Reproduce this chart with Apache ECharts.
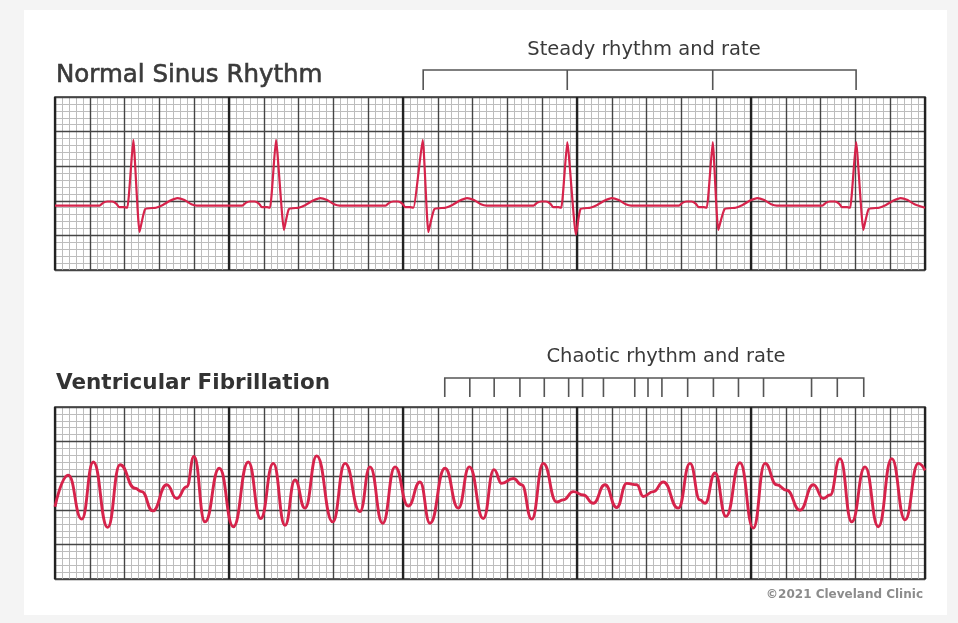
<!DOCTYPE html>
<html><head><meta charset="utf-8">
<script src="https://cdn.jsdelivr.net/npm/echarts@6/dist/echarts.min.js"></script>
<style>html,body{margin:0;padding:0;background:#f4f4f4}#c{width:958px;height:623px}</style>
</head><body><div id="c"></div>
<script>
// ECG paper in millimetres: 125 mm wide, 25 mm tall per strip
const paperX = [0, 125];
const paperY = [0, 25];

// Normal sinus rhythm trace [mm along strip, mm above bottom]
const sinusTrace = [
  [0,9.3],[6.4,9.3],[6.9,9.7],[7.5,9.9],[8.2,9.9],[8.8,9.6],[9.2,9.1],[10.0,9.1],[10.4,9.0],[11.25,18.8],[12.15,5.5],[12.95,8.8],[14.5,9.0],[15.5,9.4],[16.5,10.0],[17.6,10.4],[18.6,10.1],[19.6,9.5],[20.4,9.3],
  [26.9,9.3],[27.4,9.7],[28.0,9.9],[28.7,9.9],[29.3,9.6],[29.7,9.1],[30.5,9.1],[30.9,9.0],[31.75,18.8],[32.9,5.8],[33.6,8.8],[35.0,9.0],[36.0,9.4],[37.0,10.0],[38.1,10.4],[39.1,10.1],[40.1,9.5],[40.9,9.3],
  [47.5,9.3],[48.0,9.7],[48.6,9.9],[49.3,9.9],[49.9,9.6],[50.3,9.1],[51.1,9.1],[51.5,9.0],[52.83,18.8],[53.65,5.5],[54.5,8.8],[56.1,9.0],[57.1,9.4],[58.1,10.0],[59.2,10.4],[60.2,10.1],[61.2,9.5],[62.0,9.3],
  [68.75,9.3],[69.25,9.7],[69.85,9.9],[70.55,9.9],[71.15,9.6],[71.55,9.1],[72.35,9.1],[72.75,9.0],[73.6,18.5],[74.85,5.1],[75.5,8.8],[76.9,9.0],[77.9,9.4],[78.9,10.0],[80.0,10.4],[81.0,10.1],[82.0,9.5],[82.8,9.3],
  [89.65,9.3],[90.15,9.7],[90.75,9.9],[91.45,9.9],[92.05,9.6],[92.45,9.1],[93.25,9.1],[93.65,9.0],[94.5,18.5],[95.3,5.8],[96.2,8.8],[97.8,9.0],[98.8,9.4],[99.8,10.0],[100.9,10.4],[101.9,10.1],[102.9,9.5],[103.7,9.3],
  [110.25,9.3],[110.75,9.7],[111.35,9.9],[112.05,9.9],[112.65,9.6],[113.05,9.1],[113.85,9.1],[114.25,9.0],[115.1,18.5],[116.15,5.8],[116.9,8.8],[118.4,9.0],[119.4,9.4],[120.4,10.0],[121.5,10.4],[122.5,10.1],[123.5,9.5],[125,9.0]
];

// Ventricular fibrillation trace
const fibTrace = [
  [0,10.5],[1.91,15.1],[3.84,8.7],[5.5,17.0],[7.57,7.5],[9.34,16.6],[11.49,13.2],[12.46,12.7],[14.04,9.9],[16.05,13.7],
  [17.49,11.7],[18.92,13.4],[19.97,17.8],[21.55,8.3],[23.61,16.1],[25.62,7.6],[27.77,17.0],[29.55,8.8],[31.36,16.8],[33.05,7.8],
  [34.48,14.4],[35.92,10.3],[37.6,17.9],[39.9,8.3],[41.67,16.8],[43.82,9.8],[45.26,16.3],[47.08,8.1],[48.85,16.3],[50.76,10.6],
  [52.44,14.1],[53.88,8.1],[56.03,16.1],[57.95,10.3],[59.53,16.3],[61.54,8.8],[63.07,15.9],[64.18,13.9],[65.85,14.6],[67.05,13.7],
  [68.49,8.7],[70.16,16.8],[72.08,11.2],[73.03,11.5],[74.47,12.7],[75.91,12.2],[77.34,11.0],[79.02,13.7],[80.7,10.4],[82.14,13.9],
  [83.58,13.7],[84.53,12.0],[85.96,12.7],[87.4,14.1],[89.55,10.3],[91.24,16.8],[92.67,11.5],[93.39,11.0],[94.83,15.4],[96.41,9.1],
  [98.42,16.9],[100.33,7.4],[102.01,16.8],[103.69,13.7],[105.13,12.9],[107.04,10.0],[108.95,13.7],[110.39,11.7],[111.35,12.2],[112.79,17.5],
  [114.47,8.3],[116.38,16.3],[118.29,7.6],[120.22,17.5],[122.13,8.6],[124.04,16.8],[125,15.8]
];

// bracket tick positions (mm along strip)
const steadyTicks = [52.9, 73.6, 94.5, 115.1];
const chaoticTicks = [56.0, 59.6, 63.1, 66.8, 70.3, 73.8, 75.8, 78.8, 83.3, 85.2, 87.2, 90.9, 94.6, 98.2, 101.8, 108.7, 112.4, 116.2];

const texts = {
  sinus: 'Normal Sinus Rhythm',
  fib: 'Ventricular Fibrillation',
  steady: 'Steady rhythm and rate',
  chaotic: 'Chaotic rhythm and rate',
  copy: '©2021 Cleveland Clinic'
};

function bracketPath(ticks) {
  const pts = [[ticks[0], 0], [ticks[0], 1]];
  for (let i = 1; i < ticks.length; i++) {
    pts.push([ticks[i], 1], [ticks[i], 0]);
    if (i < ticks.length - 1) pts.push([ticks[i], 1]);
  }
  return pts;
}

const FONT = '"DejaVu Sans", Verdana, sans-serif';
const hidden = { axisLabel: { show: false }, axisLine: { show: false }, axisTick: { show: false } };
const MINOR = { color: '#bdbdbd', width: 1 };
const MAJOR = { color: '#454545', width: 1.4 };
const THICK = { color: '#222222', width: 2.3 };

function paperXAxes(grid) {
  return [
    Object.assign({ type: 'value', gridIndex: grid, min: paperX[0], max: paperX[1], interval: 1, z: 0,
      splitLine: { show: true, lineStyle: MINOR } }, hidden),
    Object.assign({ type: 'value', gridIndex: grid, position: 'top', min: paperX[0], max: paperX[1], interval: 5, z: 2,
      splitLine: { show: true, lineStyle: MAJOR } }, hidden),
    Object.assign({ type: 'value', gridIndex: grid, position: 'top', offset: 10, min: paperX[0], max: paperX[1], interval: 25, z: 3,
      splitLine: { show: true, lineStyle: THICK } }, hidden)
  ];
}
function paperYAxes(grid) {
  return [
    Object.assign({ type: 'value', gridIndex: grid, min: paperY[0], max: paperY[1], interval: 1, z: 0,
      splitLine: { show: true, lineStyle: MINOR } }, hidden),
    Object.assign({ type: 'value', gridIndex: grid, position: 'right', min: paperY[0], max: paperY[1], interval: 5, z: 2,
      splitLine: { show: true, lineStyle: MAJOR } }, hidden)
  ];
}

const chart = echarts.init(document.getElementById('c'), null, { renderer: 'canvas' });
chart.setOption({
  animation: false,
  backgroundColor: '#f4f4f4',
  graphic: [
    { type: 'rect', z: -10, shape: { x: 24, y: 10, width: 923, height: 605 }, style: { fill: '#ffffff' } },
    { type: 'text', x: 56, y: 76, style: { text: texts.sinus, font: '24.5px ' + FONT, fill: '#3a3a3a', stroke: '#3a3a3a', lineWidth: 0.6, textAlign: 'left', textVerticalAlign: 'middle' } },
    { type: 'text', x: 56, y: 383, style: { text: texts.fib, font: 'bold 21.5px ' + FONT, fill: '#333333', textAlign: 'left', textVerticalAlign: 'middle' } },
    { type: 'text', x: 644, y: 50, style: { text: texts.steady, font: '19.5px ' + FONT, fill: '#3a3a3a', textAlign: 'center', textVerticalAlign: 'middle' } },
    { type: 'text', x: 666, y: 357, style: { text: texts.chaotic, font: '19.5px ' + FONT, fill: '#3a3a3a', textAlign: 'center', textVerticalAlign: 'middle' } },
    { type: 'text', x: 923, y: 595, style: { text: texts.copy, font: 'bold 12px ' + FONT, fill: '#8c8c8c', textAlign: 'right', textVerticalAlign: 'middle' } }
  ],
  grid: [
    { left: 55, top: 97, width: 870, height: 173, show: true, backgroundColor: '#ffffff', borderColor: '#333', borderWidth: 1.6 },
    { left: 55, top: 407, width: 870, height: 172, show: true, backgroundColor: '#ffffff', borderColor: '#333', borderWidth: 1.6 },
    { left: 55, top: 70, width: 870, height: 20 },
    { left: 55, top: 378, width: 870, height: 19 }
  ],
  xAxis: [].concat(
    paperXAxes(0), paperXAxes(1),
    [Object.assign({ type: 'value', gridIndex: 2, min: paperX[0], max: paperX[1], splitLine: { show: false } }, hidden),
     Object.assign({ type: 'value', gridIndex: 3, min: paperX[0], max: paperX[1], splitLine: { show: false } }, hidden)]
  ),
  yAxis: [].concat(
    paperYAxes(0), paperYAxes(1),
    [Object.assign({ type: 'value', gridIndex: 2, min: 0, max: 1, splitLine: { show: false } }, hidden),
     Object.assign({ type: 'value', gridIndex: 3, min: 0, max: 1, splitLine: { show: false } }, hidden)]
  ),
  series: [
    { type: 'line', name: texts.sinus, xAxisIndex: 0, yAxisIndex: 0, data: sinusTrace, symbol: 'none', smooth: 0.15,
      lineStyle: { color: '#d6234b', width: 2.2 }, z: 5 },
    { type: 'line', name: texts.fib, xAxisIndex: 3, yAxisIndex: 2, data: fibTrace, symbol: 'none', smooth: 0.5, smoothMonotone: 'x',
      lineStyle: { color: '#d6234b', width: 2.9 }, z: 5 },
    { type: 'line', xAxisIndex: 6, yAxisIndex: 4, data: bracketPath(steadyTicks), symbol: 'none', clip: false,
      lineStyle: { color: '#555', width: 1.6, join: 'miter' } },
    { type: 'line', xAxisIndex: 7, yAxisIndex: 5, data: bracketPath(chaoticTicks), symbol: 'none', clip: false,
      lineStyle: { color: '#555', width: 1.6, join: 'miter' } }
  ]
});
</script>
</body></html>
